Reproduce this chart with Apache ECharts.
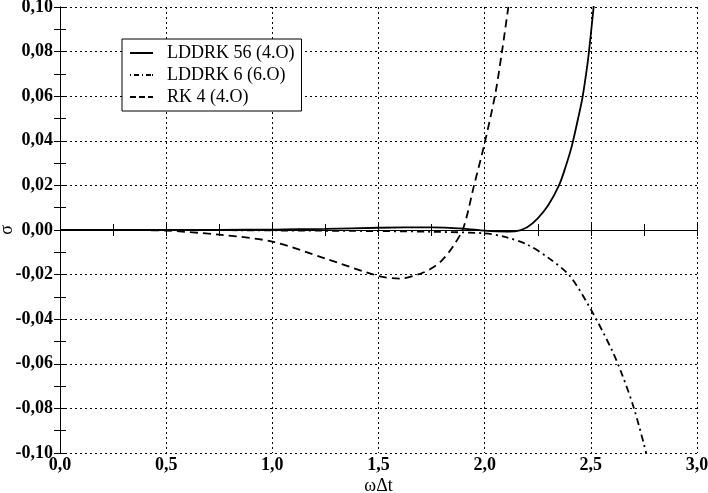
<!DOCTYPE html>
<html><head><meta charset="utf-8">
<script src="https://cdn.jsdelivr.net/npm/echarts@6/dist/echarts.min.js"></script>
<style>html,body{margin:0;padding:0;background:#fff}#c{width:708px;height:493px}</style>
</head><body><div id="c"></div>
<script>
// Series names
const seriesNames = ['LDDRK 56 (4.O)', 'LDDRK 6 (6.O)', 'RK 4 (4.O)'];
// LDDRK 56 (solid)
const lddrk56X = [0, 0.25, 0.5, 0.75, 1.0, 1.25, 1.5, 1.75, 1.9, 2.0, 2.1, 2.15, 2.2, 2.25, 2.3, 2.35, 2.38, 2.41, 2.44, 2.46, 2.48, 2.49, 2.51, 2.52];
const lddrk56Y = [0, 0, 0, 0.0001, 0.0002, 0.0005, 0.0010, 0.0012, 0.0006, -0.0003, -0.0007, -0.0005, 0.0012, 0.0052, 0.0112, 0.0200, 0.0280, 0.0375, 0.0500, 0.0590, 0.0715, 0.0790, 0.0970, 0.1070];
// LDDRK 6 (dash-dot)
const lddrk6X = [0, 0.5, 1.0, 1.5, 1.75, 2.0, 2.1, 2.2, 2.3, 2.4, 2.5, 2.6, 2.65, 2.7, 2.75, 2.77];
const lddrk6Y = [0, 0, -0.0002, -0.0005, -0.0008, -0.0015, -0.0032, -0.0065, -0.0125, -0.0205, -0.0356, -0.0540, -0.0655, -0.0790, -0.0960, -0.1040];
// RK 4 (dashed)
const rk4X = [0, 0.25, 0.5, 0.75, 1.0, 1.25, 1.5, 1.6, 1.7, 1.75, 1.8, 1.85, 1.9, 1.95, 2.0, 2.05, 2.08, 2.11, 2.12];
const rk4Y = [0, 0, -0.0003, -0.0021, -0.0052, -0.0128, -0.0206, -0.0218, -0.0195, -0.0172, -0.0135, -0.0075, 0.0010, 0.0200, 0.0390, 0.0610, 0.0790, 0.0990, 0.1060];
// Axis ranges
const xMin = 0, xMax = 3.0, xStep = 0.5;
const yMin = -0.10, yMax = 0.10, yStep = 0.02;

const zip = (a, b) => a.map((v, i) => [v, b[i]]);
const serif = '"Liberation Serif", "DejaVu Serif", serif';
const fmtX = v => v.toFixed(1).replace('.', ',');
const fmtY = v => (Math.abs(v) < 1e-9 ? 0 : v).toFixed(2).replace('.', ',');

// legend line-style icons (23 x 2 units)
const seg = (a, b) => `M${a},0H${b}V2H${a}Z`;
const iconSolid = 'path://' + seg(0, 23);
const iconDashDot = 'path://' + seg(0, 1) + seg(4, 9) + seg(12, 13) + seg(16, 21) + seg(22, 23);
const iconDash = 'path://' + seg(0, 6) + seg(9, 15) + seg(18, 23);

const baseAxis = {
  type: 'value',
  axisLine: { show: true, lineStyle: { color: '#000', width: 1 } },
  axisTick: { show: true, inside: true, length: 6, lineStyle: { color: '#000' } },
  minorTick: { show: true, splitNumber: 2, length: 6, lineStyle: { color: '#000' } },
  minorSplitLine: { show: false }
};

const chart = echarts.init(document.getElementById('c'));
chart.setOption({
  animation: false,
  backgroundColor: '#fff',
  grid: { left: 60, right: 11, top: 7, bottom: 40, containLabel: false, outerBoundsMode: 'none' },
  legend: {
    left: 122, top: 39,
    orient: 'vertical',
    data: [
      { name: seriesNames[0], icon: iconSolid },
      { name: seriesNames[1], icon: iconDashDot },
      { name: seriesNames[2], icon: iconDash }
    ],
    backgroundColor: '#fff',
    borderColor: '#000', borderWidth: 1, borderRadius: 0,
    padding: [5, 7, 5, 8],
    itemWidth: 23, itemHeight: 2, itemGap: 4,
    itemStyle: { color: '#000', borderWidth: 0 },
    textStyle: { fontFamily: serif, fontSize: 18, color: '#000', padding: [0, 0, 0, 9], lineHeight: 18 }
  },
  xAxis: [
    Object.assign({}, baseAxis, {
      min: xMin, max: xMax, interval: xStep, position: 'bottom',
      name: 'ωΔt', nameLocation: 'middle', nameGap: 24, nameMoveOverlap: false,
      nameTextStyle: { fontFamily: serif, fontSize: 18, color: '#000' },
      axisLabel: { formatter: fmtX, fontFamily: serif, fontSize: 18, fontWeight: 'bold', color: '#000', margin: 3 },
      splitLine: { show: true, lineStyle: { color: '#000', type: [2, 3], width: 1 } }
    }),
    Object.assign({}, baseAxis, {
      min: xMin, max: xMax, interval: xStep, position: 'top',
      axisLabel: { show: false }, splitLine: { show: false }
    })
  ],
  yAxis: [
    Object.assign({}, baseAxis, {
      min: yMin, max: yMax, interval: yStep, position: 'left',
      name: 'σ', nameLocation: 'middle', nameGap: 44, nameRotate: 90, nameMoveOverlap: false,
      nameTextStyle: { fontFamily: serif, fontSize: 18, color: '#000' },
      axisLabel: { formatter: fmtY, fontFamily: serif, fontSize: 18, fontWeight: 'bold', color: '#000', margin: 7 },
      splitLine: { show: true, lineStyle: { color: '#000', type: [2, 3], width: 1 } }
    }),
    Object.assign({}, baseAxis, {
      min: yMin, max: yMax, interval: yStep, position: 'right',
      axisLabel: { show: false }, splitLine: { show: false }
    })
  ],
  series: [
    { name: seriesNames[0], type: 'line', data: zip(lddrk56X, lddrk56Y), symbol: 'none', smooth: 0.3,
      lineStyle: { color: '#000', width: 1.8, type: 'solid' }, itemStyle: { color: '#000' } },
    { name: seriesNames[1], type: 'line', data: zip(lddrk6X, lddrk6Y), symbol: 'none', smooth: 0.3,
      lineStyle: { color: '#000', width: 1.8, type: [7, 4, 2, 4] }, itemStyle: { color: '#000' } },
    { name: seriesNames[2], type: 'line', data: zip(rk4X, rk4Y), symbol: 'none', smooth: 0.3,
      lineStyle: { color: '#000', width: 1.8, type: [8, 5] }, itemStyle: { color: '#000' } }
  ]
});
</script></body></html>
